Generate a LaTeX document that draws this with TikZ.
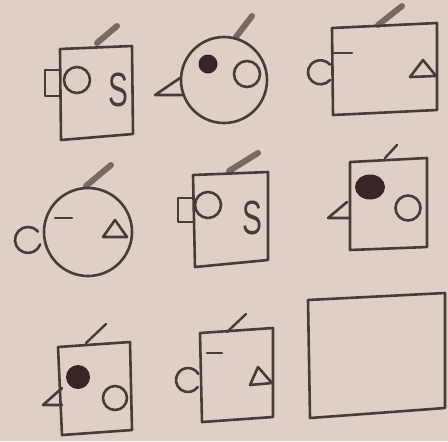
\documentclass[tikz,border=0pt]{standalone}
\usepackage{fontspec}
\setmainfont{Liberation Sans}
\definecolor{paper}{RGB}{222,207,199}
\definecolor{ink}{RGB}{72,60,58}
\definecolor{slashc}{RGB}{120,105,100}
\definecolor{dotc}{RGB}{55,38,38}
\begin{document}
\begin{tikzpicture}[x=0.5pt,y=-0.5pt,
  ln/.style={draw=ink,line width=1.3pt,line join=round,line cap=round},
  sl/.style={draw=slashc,line width=3pt,line cap=round},
  thinsl/.style={draw=ink,line width=1.2pt,line cap=round},
  dot/.style={fill=dotc},
  letter/.style={inner sep=0pt,text=ink,font=\fontsize{24}{24}\selectfont,xscale=0.62}]
\useasboundingbox (0,0) rectangle (448,441);
\fill[paper] (0,0) rectangle (448,441);

% ---- cell 1 ----
\draw[sl] (97,43) -- (117,26);
\draw[ln] (60,49) -- (132,46) -- (133,134) -- (61,140) -- cycle;
\draw[ln] (60,70) -- (45,70) -- (45,96) -- (60,96);
\draw[ln] (77,80) circle (13);
\node[letter] (s1) at (118,90) {S};

% ---- cell 2 ----
\draw[sl] (236,37) -- (252,16);
\draw[ln] (224,80) circle (43);
\draw[ln] (180,78) -- (155,95) -- (184,95);
\fill[dot] (208,64) circle (9.5);
\draw[ln] (247,74) circle (13);

% ---- cell 3 ----
\draw[sl] (378,25) -- (402,6);
\draw[ln] (332,28) -- (437,23) -- (437,110) -- (333,115) -- cycle;
\draw[ln] (334,53) -- (352,53);
\draw[ln] (330,80) arc (40:320:12.5 and 12);
\draw[ln] (410,77) -- (423,60) -- (436,76) -- cycle;

% ---- cell 4 ----
\draw[sl] (86,186) -- (111,165);
\draw[ln] (88,232) circle (44);
\draw[ln] (55,218) -- (72,218);
\draw[ln] (103,237) -- (115,220) -- (127,237) -- cycle;
\draw[ln] (40.2,244.4) arc (20:320:13);

% ---- cell 5 ----
\draw[sl] (229,171) -- (258,153);
\draw[ln] (193,175) -- (268,172) -- (268,260) -- (195,267) -- cycle;
\draw[ln] (193,198) -- (178,198) -- (178,222) -- (193,222);
\draw[ln] (208,205) circle (13);
\node[letter] (s2) at (252,218) {S};

% ---- cell 6 ----
\draw[thinsl] (385,158) -- (397,145);
\draw[ln] (350,162) -- (427,158) -- (427,247) -- (350,250) -- cycle;
\fill[dot] (370,187) ellipse (15 and 12.5);
\draw[ln] (408,208) circle (12.5);
\draw[ln] (347,202) -- (328,218) -- (350,218);

% ---- cell 7 ----
\draw[thinsl] (86,343) -- (106,324);
\draw[ln] (58,347) -- (130,342) -- (132,430) -- (62,435) -- cycle;
\fill[dot] (78,377) circle (12);
\draw[ln] (115,398) circle (12);
\draw[ln] (62,388) -- (43,405) -- (62,405);

% ---- cell 8 ----
\draw[thinsl] (227,332) -- (246,314);
\draw[ln] (200,333) -- (273,328) -- (273,417) -- (202,422) -- cycle;
\draw[ln] (207,353) -- (222,353);
\draw[ln] (250,385) -- (258,367) -- (272,383) -- cycle;
\draw[ln] (197.8,386.9) arc (35:330:12);

% ---- cell 9 ----
\draw[ln] (308,300) -- (445,293) -- (445,408) -- (310,418) -- cycle;
\end{tikzpicture}
\end{document}
